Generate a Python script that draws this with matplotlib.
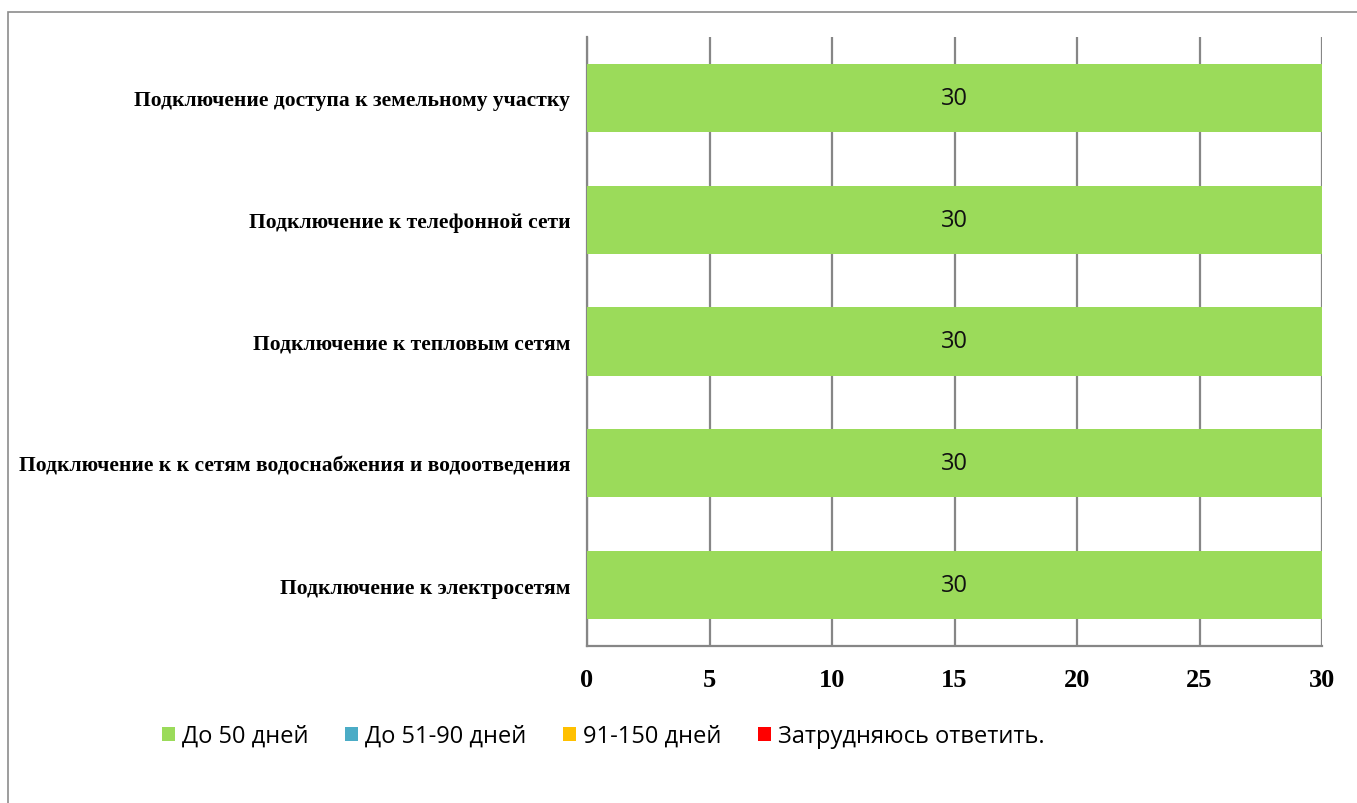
import matplotlib
matplotlib.use("Agg")
import matplotlib.pyplot as plt
from matplotlib.patches import Rectangle, Patch

categories = [
    "Подключение к электросетям",
    "Подключение к к сетям водоснабжения и водоотведения",
    "Подключение к тепловым сетям",
    "Подключение к телефонной сети",
    "Подключение доступа к земельному участку",
]
series_names = ["До 50 дней", "До 51-90 дней", "91-150 дней", "Затрудняюсь ответить."]
series_values = [
    [30, 30, 30, 30, 30],
    [0, 0, 0, 0, 0],
    [0, 0, 0, 0, 0],
    [0, 0, 0, 0, 0],
]
series_colors = ["#9BDB5A", "#4BACC6", "#FFC000", "#FF0000"]
x_ticks = [0, 5, 10, 15, 20, 25, 30]

W, H = 1357, 804
fig = plt.figure(figsize=(W / 100, H / 100), dpi=100)
fig.patch.set_facecolor("white")

# outer chart frame
fig.add_artist(Rectangle((8 / W, 0 - 0.01), 1.1, 1 - 13 / H + 0.01,
                         transform=fig.transFigure, fill=False,
                         edgecolor="#8c8c8c", linewidth=1.2))

ax = fig.add_axes([587 / W, 1 - 647 / H, (1322 - 587) / W, (647 - 38) / H])

y = list(range(len(categories)))
left = [0] * len(categories)
for name, vals, col in zip(series_names, series_values, series_colors):
    bars = ax.barh(y, vals, left=left, height=0.56, color=col, label=name, zorder=3)
    for b, v in zip(bars, vals):
        if v > 0:
            ax.text(b.get_x() + b.get_width() / 2, b.get_y() + b.get_height() / 2,
                    f"{v}", ha="center", va="center", fontsize=17,
                    family="Open Sans", color="#111111", zorder=4)
    left = [l + v for l, v in zip(left, vals)]

ax.set_xlim(0, 30)
ax.set_ylim(-0.5, len(categories) - 0.5)
ax.set_xticks(x_ticks)
ax.set_xticklabels([str(t) for t in x_ticks], family="Liberation Serif",
                   fontweight="bold", fontsize=19)
ax.set_yticks(y)
ax.set_yticklabels(categories, family="Liberation Serif", fontweight="bold", fontsize=15.5)
ax.tick_params(axis="x", length=0, pad=16)
ax.tick_params(axis="y", length=0, pad=12)

ax.grid(axis="x", color="#868686", linewidth=1.6, zorder=1)
for s in ["top", "right"]:
    ax.spines[s].set_visible(False)
for s in ["left", "bottom"]:
    ax.spines[s].set_color("#868686")
    ax.spines[s].set_linewidth(1.6)

handles = [Patch(facecolor=c, edgecolor="none") for c in series_colors]
fig.legend(handles, series_names, loc="center", bbox_to_anchor=(603 / W, 1 - 737 / H),
           ncol=4, frameon=False, prop={"family": "Open Sans", "size": 17},
           handlelength=0.55, handleheight=0.55, handletextpad=0.3, columnspacing=1.55)

fig.savefig("out.png", dpi=100, facecolor="white")
